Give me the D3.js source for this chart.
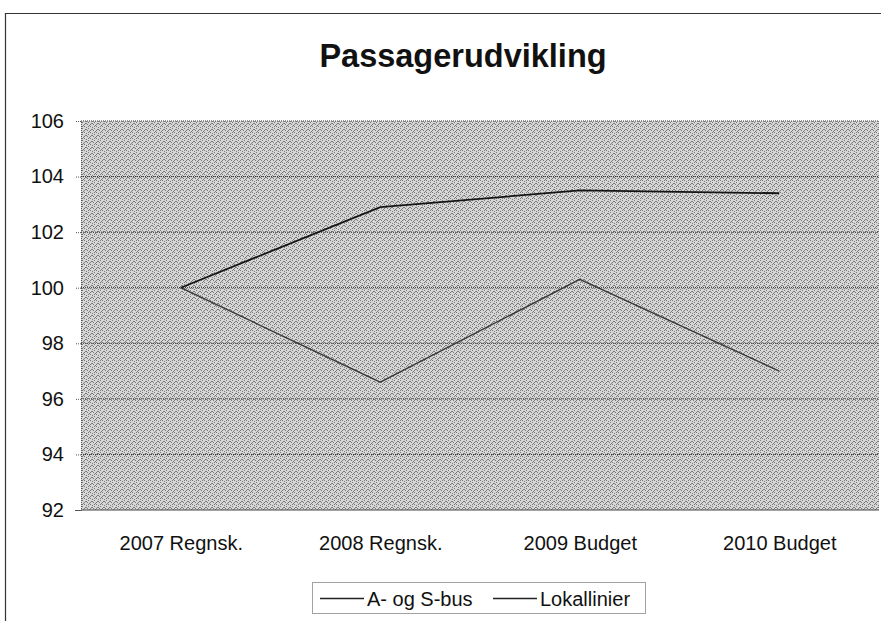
<!DOCTYPE html>
<html><head><meta charset="utf-8">
<script src="https://cdn.jsdelivr.net/npm/d3@7"></script>
<style>html,body{margin:0;padding:0;background:#fff;}svg{display:block;font-family:"Liberation Sans",Arial,sans-serif;}</style>
</head><body>
<svg id="c" width="881" height="621"></svg>
<script>
const title = "Passagerudvikling";
const categories = ["2007 Regnsk.", "2008 Regnsk.", "2009 Budget", "2010 Budget"];
const seriesNames = ["A- og S-bus", "Lokallinier"];
const aogsBus = [100, 102.9, 103.5, 103.4];
const lokallinier = [100, 96.6, 100.3, 97.0];
const yTicks = [92, 94, 96, 98, 100, 102, 104, 106];

const svg = d3.select("#c");
const L = 81, R = 879, T = 121, B = 510;

// outer frame
svg.append("path").attr("d", "M5.5,621 L5.5,13.5 L881,13.5")
  .attr("fill", "none").attr("stroke", "#333").attr("stroke-width", 1.2);

svg.append("text").attr("x", 463).attr("y", 67).attr("text-anchor", "middle")
  .attr("font-size", 32.5).attr("font-weight", "bold").attr("fill", "#111").text(title);

const x = d3.scalePoint().domain(categories).range([L, R]).padding(0.5);
const y = d3.scaleLinear().domain([92, 106]).range([B, T]);

// texture pattern for plot background
const defs = svg.append("defs");
const pat = defs.append("pattern").attr("id", "tex").attr("width", 6).attr("height", 6).attr("patternUnits", "userSpaceOnUse");
pat.append("rect").attr("width", 6).attr("height", 6).attr("fill", "#d6d6d6");
[[0,0],[2,1],[4,2],[1,3],[3,4],[5,5],[0,4],[4,0],[2,3]].forEach(([a,b]) =>
  pat.append("rect").attr("x", a).attr("y", b).attr("width", 1).attr("height", 1).attr("fill", "#7a7a7a"));

svg.append("rect").attr("x", L).attr("y", T).attr("width", R - L).attr("height", B - T)
  .attr("fill", "url(#tex)");

// grid + y axis
const ya = svg.append("g").attr("transform", `translate(${L},0)`)
  .call(d3.axisLeft(y).tickValues(yTicks).tickSize(6).tickFormat(d3.format("d")));
ya.select(".domain").attr("stroke", "#555").attr("stroke-dasharray", "1,1");
ya.selectAll(".tick line").attr("stroke", "#555").attr("stroke-dasharray", "1,1");
ya.selectAll(".tick text").attr("font-size", 20).attr("fill", "#111").attr("x", -17)
  .attr("font-family", "Liberation Sans, Arial, sans-serif");

svg.append("g").selectAll("line").data(yTicks.filter(d => d !== 92)).join("line")
  .attr("x1", L).attr("x2", R).attr("y1", d => y(d)).attr("y2", d => y(d))
  .attr("stroke", "#333").attr("stroke-width", 1).attr("stroke-dasharray", "1,1");

svg.append("line").attr("x1", L).attr("x2", R).attr("y1", B).attr("y2", B)
  .attr("stroke", "#444").attr("stroke-width", 1.2);

// x axis labels
const xa = svg.append("g").attr("transform", `translate(0,${B})`)
  .call(d3.axisBottom(x).tickSize(0).tickPadding(26));
xa.select(".domain").remove();
xa.selectAll(".tick text").attr("font-size", 20).attr("fill", "#111")
  .attr("font-family", "Liberation Sans, Arial, sans-serif");

// lines
const line = d3.line().x((d, i) => x(categories[i])).y(d => y(d));
svg.append("path").datum(lokallinier).attr("d", line).attr("fill", "none")
  .attr("stroke", "#3a3a3a").attr("stroke-width", 1.4);
svg.append("path").datum(aogsBus).attr("d", line).attr("fill", "none")
  .attr("stroke", "#151515").attr("stroke-width", 1.8);

// legend
const lg = svg.append("g");
lg.append("rect").attr("x", 312.5).attr("y", 582.5).attr("width", 333).attr("height", 31)
  .attr("fill", "#fff").attr("stroke", "#444").attr("stroke-dasharray", "1,1");
const lx = [320, 493];
seriesNames.forEach((n, i) => {
  lg.append("line").attr("x1", lx[i]).attr("x2", lx[i] + 44).attr("y1", 598.5).attr("y2", 598.5)
    .attr("stroke", "#222").attr("stroke-width", 1.4);
  lg.append("text").attr("x", lx[i] + 47).attr("y", 605.5).attr("font-size", 20).attr("fill", "#111").text(n);
});
</script>
</body></html>
